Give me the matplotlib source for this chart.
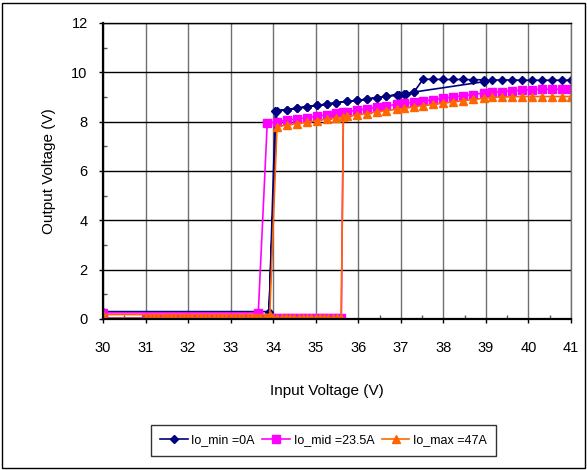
import matplotlib
matplotlib.use('Agg')
import matplotlib.pyplot as plt
from matplotlib.patches import Rectangle
from matplotlib.ticker import MultipleLocator

plt.rcParams['font.family'] = ['Liberation Sans', 'DejaVu Sans']

#############################################################################
# Data #
# up sweep, output still off (V in)
low_v = [30.0,
         31.0, 31.1, 31.2, 31.3, 31.4, 31.5, 31.6, 31.7, 31.8, 31.9,
         32.0, 32.1, 32.2, 32.3, 32.4, 32.5, 32.6, 32.7, 32.8, 32.9,
         33.0, 33.1, 33.2, 33.3, 33.4, 33.5, 33.6, 33.7, 33.8, 33.9,
         34.0, 34.1, 34.2, 34.3, 34.4, 34.5, 34.6, 34.7, 34.8, 34.9,
         35.0, 35.1, 35.2, 35.3, 35.4, 35.5, 35.6]
low_out = [0.03,
           0.03, 0.03, 0.03, 0.03, 0.03, 0.03, 0.03, 0.03, 0.03, 0.03,
           0.03, 0.03, 0.03, 0.03, 0.03, 0.03, 0.03, 0.03, 0.03, 0.03,
           0.03, 0.03, 0.03, 0.03, 0.03, 0.03, 0.03, 0.03, 0.03, 0.03,
           0.03, 0.03, 0.03, 0.03, 0.03, 0.03, 0.03, 0.03, 0.03, 0.03,
           0.03, 0.03, 0.03, 0.03, 0.03, 0.03, 0.03]

# down sweep, output on (V in)
upper_v = [41.00, 40.79, 40.55, 40.32, 40.08, 39.85, 39.61, 39.38, 39.14, 38.95,
           38.70, 38.46, 38.23, 37.99, 37.76, 37.52, 37.31, 37.07, 36.90, 36.66,
           36.43, 36.20, 35.97, 35.73, 35.48, 35.26, 35.03, 34.79, 34.56, 34.32,
           34.09]

# Io_min = 0A
min_down_v = [41.00, 40.79, 40.55, 40.32, 40.08, 39.85, 39.61, 39.38, 39.14, 38.95,
              37.31, 37.07, 36.90, 36.66, 36.43, 36.20, 35.97, 35.73, 35.48, 35.26,
              35.03, 34.79, 34.56, 34.32, 34.09, 33.90, 30.00]
min_down_out = [9.68, 9.68, 9.68, 9.68, 9.68, 9.68, 9.69, 9.69, 9.69, 9.62,
                9.20, 9.12, 9.08, 9.03, 8.97, 8.91, 8.86, 8.82, 8.76, 8.71,
                8.66, 8.60, 8.55, 8.49, 8.43, 0.30, 0.30]
min_on_v = [34.05, 34.32, 34.56, 34.79, 35.03, 35.26, 35.48, 35.73, 35.97, 36.20,
            36.43, 36.66, 36.96, 37.12, 37.31, 37.52, 37.76, 37.99, 38.23, 38.46,
            38.70, 38.95]
min_on_out = [8.43, 8.49, 8.55, 8.60, 8.66, 8.71, 8.76, 8.82, 8.86, 8.91,
              8.97, 9.03, 9.10, 9.14, 9.20, 9.72, 9.72, 9.71, 9.71, 9.71,
              9.70, 9.70]

# Io_mid = 23.5A
mid_down_out = [9.32, 9.32, 9.31, 9.31, 9.30, 9.28, 9.25, 9.22, 9.19, 9.16,
                9.10, 9.05, 9.00, 8.95, 8.89, 8.84, 8.79, 8.74, 8.70, 8.64,
                8.58, 8.52, 8.46, 8.40, 8.34, 8.28, 8.22, 8.16, 8.11, 8.06,
                8.00]
mid_off_v = [33.86, 33.65, 30.00]
mid_off_out = [7.93, 0.25, 0.25]
mid_on_v = [35.65]
mid_on_out = [8.38]

# Io_max = 47A
max_down_out = [9.02, 9.02, 9.02, 9.02, 9.02, 9.02, 9.01, 9.00, 8.98, 8.95,
                8.90, 8.85, 8.80, 8.75, 8.70, 8.65, 8.60, 8.54, 8.50, 8.45,
                8.39, 8.33, 8.27, 8.21, 8.15, 8.10, 8.04, 7.98, 7.92, 7.86,
                7.80]
max_off_v = [33.92, 30.00]
max_off_out = [0.18, 0.18]
max_on_v = [35.65]
max_on_out = [8.20]

x_ticks = [30, 31, 32, 33, 34, 35, 36, 37, 38, 39, 40, 41]
y_ticks = [0, 2, 4, 6, 8, 10, 12]

#############################################################################
# Plotting #
fig = plt.figure(figsize=(5.87, 4.70), dpi=100)
W, H = 587, 470
ax = fig.add_axes([103 / W, 1 - 319 / H, 468 / W, 296 / H])

# outer chart border
fig.patches.append(Rectangle((2 / W, 2 / H), 583 / W, 465 / H, transform=fig.transFigure,
                             fill=False, edgecolor='black', linewidth=1.0))

# Io_min
ax.plot(min_down_v + low_v[:31] + min_on_v, min_down_out + low_out[:31] + min_on_out,
        color='#000080', marker='D', markersize=4.5, linewidth=1.2, label='Io_min =0A')
# Io_mid
ax.plot(upper_v + mid_off_v + low_v + mid_on_v, mid_down_out + mid_off_out + low_out + mid_on_out,
        color='#FF00FF', marker='s', markersize=5.5, linewidth=1.2, label='Io_mid =23.5A')
# Io_max
ax.plot(upper_v + max_off_v + low_v + max_on_v, max_down_out + max_off_out + low_out + max_on_out,
        color='#FF6600', marker='^', markersize=6, linewidth=1.2, label='Io_max =47A')

ax.set_xlim(30, 41)
ax.set_ylim(0, 12)
ax.set_xticks(x_ticks)
ax.set_yticks(y_ticks)
ax.xaxis.set_minor_locator(MultipleLocator(0.5))
ax.yaxis.set_minor_locator(MultipleLocator(1))

ax.grid(axis='y', which='major', color='black', linewidth=1.0, zorder=0)
ax.grid(axis='x', which='major', color='#707070', linewidth=1.0, zorder=0)
ax.set_axisbelow(True)

for side in ['left', 'bottom']:
    ax.spines[side].set_linewidth(1.6)
ax.spines['top'].set_linewidth(1.0)
ax.spines['right'].set_color('#707070')
ax.spines['right'].set_linewidth(1.0)

ax.tick_params(which='major', direction='out', length=3, width=1, labelsize=10.5)
ax.tick_params(axis='x', which='major', pad=13)
ax.tick_params(axis='y', which='major', pad=8)
ax.tick_params(which='minor', direction='in', length=3, width=1, color='#555555')

ax.set_ylabel('Output Voltage (V)', fontsize=11)
ax.set_xlabel('Input Voltage (V)', fontsize=11)
ax.yaxis.set_label_coords((56 - 103) / 468, 0.5)
ax.xaxis.set_label_coords((327 - 103) / 468, (319 - 384) / 296)

leg = fig.legend(loc='center', bbox_to_anchor=(323.5 / W, 1 - 440.5 / H), ncol=3,
                 frameon=True, fancybox=False, edgecolor='black', fontsize=9,
                 handlelength=2.2, handletextpad=0.3, columnspacing=0.6, borderpad=0.75)
leg.get_frame().set_linewidth(1.0)

plt.savefig('out.png', dpi=100)
